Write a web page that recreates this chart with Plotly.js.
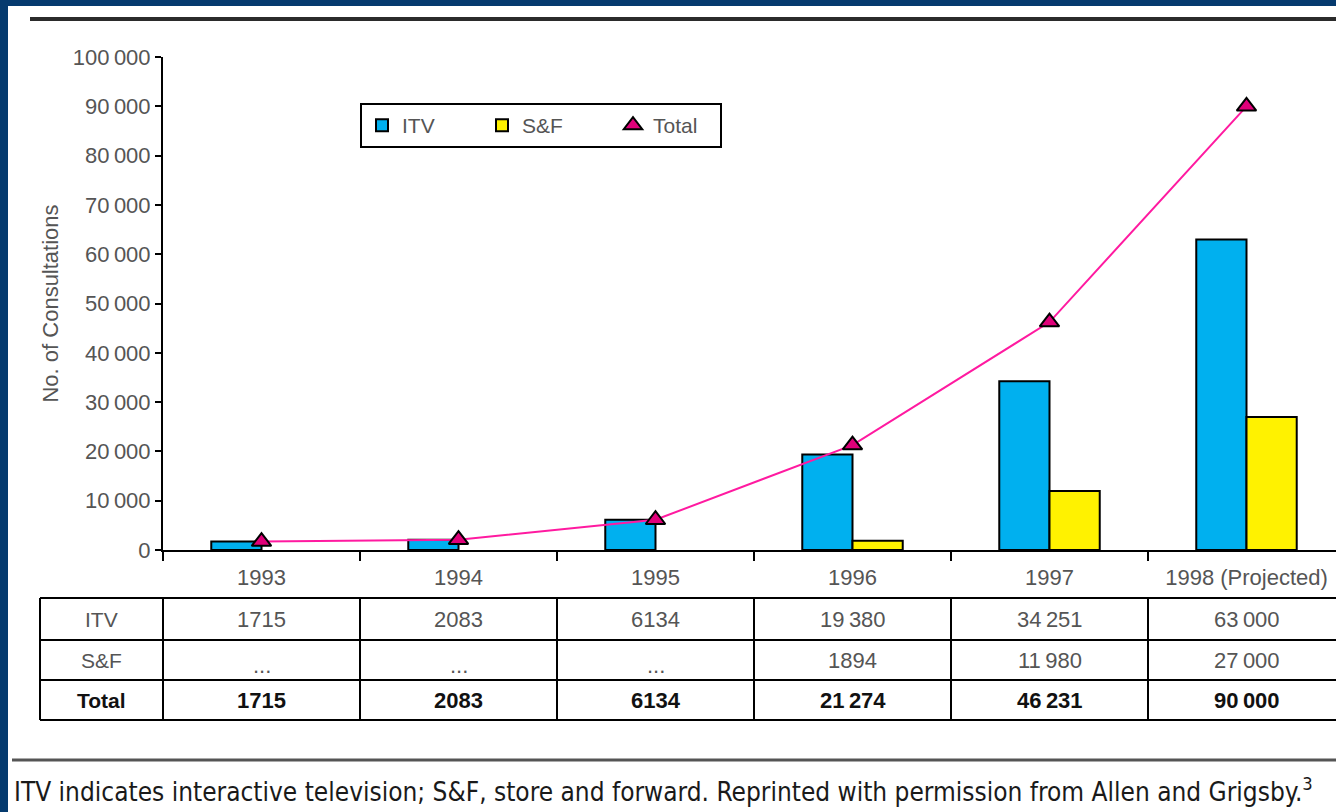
<!DOCTYPE html>
<html>
<head>
<meta charset="utf-8">
<script src="https://cdn.plot.ly/plotly-3.0.1.min.js"></script>
<style>
  html, body { margin: 0; padding: 0; overflow: hidden; background: #fff; }
  #chart { width: 1350px; height: 812px; }
</style>
</head>
<body>
<div id="chart"></div>
<script>
// Telemedicine consultations per year, by delivery mode
const years = ['1993', '1994', '1995', '1996', '1997', '1998 (Projected)'];
const itv = [1715, 2083, 6134, 19380, 34251, 63000];
const sf = [null, null, null, 1894, 11980, 27000];
const total = itv.map((v, i) => v + (sf[i] || 0));
const rowNames = ['ITV', 'S&F', 'Total'];

// figure geometry (pixels)
const W = 1350, H = 812;
const M = { l: 163, r: 5, t: 57, b: 262 };
const PW = W - M.l - M.r, PH = H - M.t - M.b;
const X = px => (px - M.l) / PW;
const Y = py => (H - M.b - py) / PH;

const GRAY = '#555555';
const FONT = 'Liberation Sans, Arial, sans-serif';
const THIN = '\u2009';

function fmt(v) {
  if (v === null || v === undefined) return '...';
  const s = String(v);
  return v >= 10000 ? s.slice(0, s.length - 3) + THIN + s.slice(-3) : s;
}

const traces = [
  {
    type: 'bar', name: 'ITV', x: years, y: itv, legendwidth: 75,
    marker: { color: '#00b0ef', line: { color: '#000', width: 2 } },
    hoverinfo: 'x+y'
  },
  {
    type: 'bar', name: 'S&F', x: years, y: sf, legendwidth: 86,
    marker: { color: '#fff200', line: { color: '#000', width: 2 } },
    hoverinfo: 'x+y'
  },
  {
    type: 'scatter', mode: 'lines', x: years, y: total, showlegend: false,
    line: { color: '#ff1aa0', width: 2 }, hoverinfo: 'skip'
  },
  {
    type: 'scatter', mode: 'markers', name: 'Total', x: years, y: total, legendwidth: 62,
    marker: { symbol: 'triangle-up', size: 17, color: '#e0007a', line: { color: '#000', width: 2 } },
    hoverinfo: 'x+y'
  }
];

const shapes = [];
const annotations = [];

// page frame: navy border, top rule and caption rule
shapes.push({ type: 'rect', xref: 'paper', yref: 'paper', x0: X(0), x1: X(8), y0: Y(H), y1: Y(0),
  fillcolor: '#053a6e', line: { width: 0 } });
shapes.push({ type: 'rect', xref: 'paper', yref: 'paper', x0: X(0), x1: X(W), y0: Y(6), y1: Y(0),
  fillcolor: '#053a6e', line: { width: 0 } });
shapes.push({ type: 'line', xref: 'paper', yref: 'paper', x0: X(30), x1: X(W), y0: Y(19), y1: Y(19),
  line: { color: '#2b2b2b', width: 4 } });
shapes.push({ type: 'line', xref: 'paper', yref: 'paper', x0: X(12), x1: X(W), y0: Y(760), y1: Y(760),
  line: { color: '#555', width: 3 } });

// data table below the axis
const rowEdges = [598, 640, 680, 720];
rowEdges.forEach(py => shapes.push({ type: 'line', xref: 'paper', yref: 'paper',
  x0: X(40), x1: X(W), y0: Y(py), y1: Y(py), line: { color: '#000', width: 2 } }));
[40, 163].forEach(px => shapes.push({ type: 'line', xref: 'paper', yref: 'paper',
  x0: X(px), x1: X(px), y0: Y(598), y1: Y(720), line: { color: '#000', width: 2 } }));
years.forEach((_, i) => shapes.push({ type: 'line', xref: 'x', yref: 'paper',
  x0: i + 0.5, x1: i + 0.5, y0: Y(598), y1: Y(720), line: { color: '#000', width: 2 } }));

const rowCenters = [619, 660, 700];
rowNames.forEach((name, r) => annotations.push({
  xref: 'paper', yref: 'paper', x: X(101), y: Y(rowCenters[r]),
  xanchor: 'center', yanchor: 'middle', showarrow: false,
  text: r === 2 ? '<b>' + name + '</b>' : name,
  font: { family: FONT, size: 21, color: r === 2 ? '#111' : GRAY }
}));
const rows = [itv, sf, total];
rows.forEach((vals, r) => vals.forEach((v, i) => annotations.push({
  xref: 'x', yref: 'paper', x: i, y: Y(rowCenters[r] + (v === null ? 5 : 0)),
  xanchor: 'center', yanchor: 'middle', showarrow: false,
  text: r === 2 ? '<b>' + fmt(v) + '</b>' : fmt(v),
  font: { family: FONT, size: 22, color: r === 2 ? '#111' : GRAY }
})));

// caption
annotations.push({
  xref: 'paper', yref: 'paper', x: X(12), y: Y(790), xanchor: 'left', yanchor: 'middle', showarrow: false,
  text: 'ITV indicates interactive television; S&F, store and forward. Reprinted with permission from Allen and Grigsby.<sup>3</sup>',
  font: { family: 'Liberation Sans Narrow, DejaVu Sans Condensed, sans-serif', size: 26, color: '#1a1a1a' }
});

const layout = {
  width: W, height: H,
  margin: M,
  paper_bgcolor: '#fff', plot_bgcolor: '#fff',
  separators: '.' + THIN,
  barmode: 'group', bargap: 0.49, bargroupgap: 0,
  showlegend: true,
  legend: {
    x: X(360), y: Y(103), xanchor: 'left', yanchor: 'top',
    orientation: 'h', bgcolor: '#fff', bordercolor: '#000', borderwidth: 2,
    font: { family: FONT, size: 21, color: GRAY },
    traceorder: 'normal'
  },
  xaxis: {
    type: 'category', range: [-0.5, 5.5], fixedrange: true,
    showline: true, linecolor: '#000', linewidth: 2,
    ticks: 'outside', tickson: 'boundaries', ticklen: 9, tickwidth: 2, tickcolor: '#000',
    ticklabelstandoff: 7,
    showgrid: false, zeroline: false,
    tickfont: { family: FONT, size: 22, color: GRAY }
  },
  yaxis: {
    range: [0, 100000], dtick: 10000, tickformat: ',d', fixedrange: true,
    showline: true, linecolor: '#000', linewidth: 2,
    ticks: 'outside', ticklen: 6, tickwidth: 2, tickcolor: '#000',
    showgrid: false, zeroline: false,
    tickfont: { family: FONT, size: 22, color: GRAY },
    title: { text: 'No. of Consultations', standoff: 8, font: { family: FONT, size: 22, color: GRAY } }
  },
  shapes: shapes,
  annotations: annotations
};

Plotly.newPlot('chart', traces, layout, { displayModeBar: false, staticPlot: true });
</script>
</body>
</html>
